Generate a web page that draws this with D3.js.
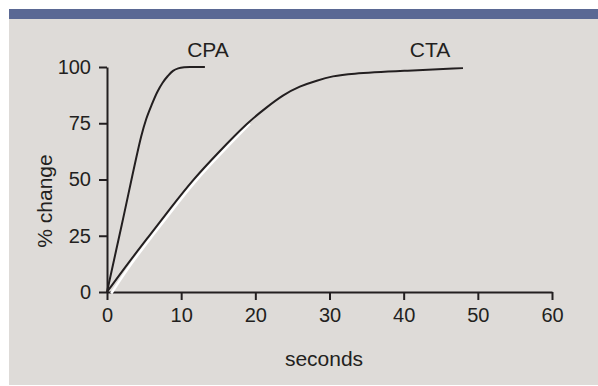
<!DOCTYPE html>
<html>
<head>
<meta charset="utf-8">
<script src="https://cdn.jsdelivr.net/npm/d3@7"></script>
<style>
  body { margin: 0; background: #fff; }
  text { font-family: "Liberation Sans", Arial, sans-serif; fill: #231f20; }
</style>
</head>
<body>
<svg id="chart" width="598" height="386"></svg>
<script>
// data (seconds, % change)
var cpaSeconds = [0, 2, 4.6, 5.3, 6.0, 6.8, 7.5, 8.2, 8.9, 9.6, 10.4, 11.5, 13.2];
var cpaValues  = [0, 30, 69, 77, 83, 89, 93, 96, 98.3, 99.4, 99.9, 100, 100];

var ctaSeconds = [0, 3, 5.7, 8.5, 11.6, 15, 19, 21.5, 23.7, 26, 28.3, 30.5, 32.5, 40, 48];
var ctaValues  = [0, 13.5, 25, 37, 50, 62, 75.5, 82, 87.5, 91.5, 94, 96, 97, 98.3, 99.5];

// white highlight under the early part of CTA
var glintSeconds = [0.3, 3, 5.7, 8.5, 11.6, 15, 19];
var glintValues  = [0, 13.5, 25, 37, 50, 62, 75.5];

var xTicks = [0, 10, 20, 30, 40, 50, 60];
var yTicks = [0, 25, 50, 75, 100];

var svg = d3.select("#chart");

// panel + title band
svg.append("rect").attr("x", 9).attr("y", 19).attr("width", 589).attr("height", 366).attr("fill", "#dedbd8");
svg.append("rect").attr("x", 9).attr("y", 9).attr("width", 589).attr("height", 10).attr("fill", "#5a6894");

var x = d3.scaleLinear().domain([0, 60]).range([107, 552]);
var y = d3.scaleLinear().domain([0, 100]).range([292, 67]);

var xAxis = svg.append("g")
    .attr("transform", "translate(0,292)")
    .call(d3.axisBottom(x).tickValues(xTicks).tickSize(8).tickPadding(8).tickSizeOuter(0));

var yAxis = svg.append("g")
    .attr("transform", "translate(107,0)")
    .call(d3.axisLeft(y).tickValues(yTicks).tickSize(8).tickPadding(8).tickSizeOuter(0));

[xAxis, yAxis].forEach(function(g) {
  g.select(".domain").attr("stroke", "#231f20").attr("stroke-width", 2);
  g.selectAll(".tick line").attr("stroke", "#231f20").attr("stroke-width", 2);
  g.selectAll(".tick text").style("font-size", "20px").attr("fill", "#231f20")
    .style("font-family", "'Liberation Sans', Arial, sans-serif");
});

var line = d3.line()
    .x(function(d) { return x(d[0]); })
    .y(function(d) { return y(d[1]); })
    .curve(d3.curveCatmullRom);

// smoother version for the slow CTA curve
var smooth = d3.line()
    .x(function(d) { return x(d[0]); })
    .y(function(d) { return y(d[1]); })
    .curve(d3.curveBasis);

// white line sits just below/right of the black CTA curve
svg.append("path")
    .datum(d3.zip(glintSeconds, glintValues))
    .attr("d", smooth)
    .attr("transform", "translate(2,1.5)")
    .attr("fill", "none").attr("stroke", "#ffffff").attr("stroke-width", 2.5);

svg.append("path")
    .datum(d3.zip(ctaSeconds, ctaValues))
    .attr("d", smooth)
    .attr("fill", "none").attr("stroke", "#231f20").attr("stroke-width", 2);

svg.append("path")
    .datum(d3.zip(cpaSeconds, cpaValues))
    .attr("d", line)
    .attr("fill", "none").attr("stroke", "#231f20").attr("stroke-width", 2);

// series labels
svg.append("text").attr("x", 208).attr("y", 57).attr("text-anchor", "middle")
    .style("font-size", "21px").text("CPA");
svg.append("text").attr("x", 430).attr("y", 57).attr("text-anchor", "middle")
    .style("font-size", "21px").text("CTA");

// axis titles
svg.append("text").attr("x", 324).attr("y", 366).attr("text-anchor", "middle")
    .style("font-size", "21px").text("seconds");
svg.append("text").attr("transform", "translate(52,201) rotate(-90)").attr("text-anchor", "middle")
    .style("font-size", "21px").text("% change");
</script>
</body>
</html>
